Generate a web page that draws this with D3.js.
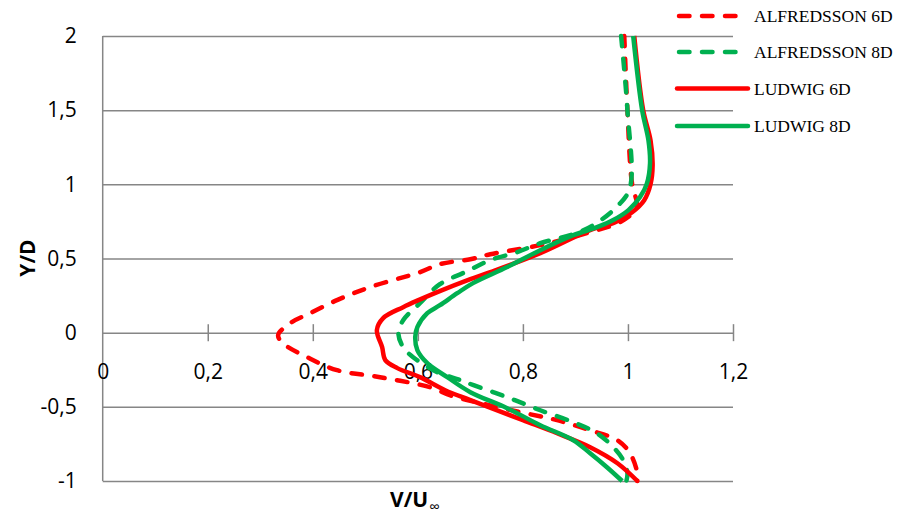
<!DOCTYPE html>
<html>
<head>
<meta charset="utf-8">
<script src="https://cdn.jsdelivr.net/npm/d3@7"></script>
<style>
  html, body { margin: 0; padding: 0; background: #fff; }
  svg { display: block; }
</style>
</head>
<body>
<svg id="chart" width="904" height="520"></svg>
<script>
// ---- data ----
const seriesNames = ["ALFREDSSON 6D", "ALFREDSSON 8D", "LUDWIG 6D", "LUDWIG 8D"];
const seriesColors = ["#FF0000", "#00B050", "#FF0000", "#00B050"];
const seriesDashed = [true, true, false, false];

const alfredsson6D_x = [0.993, 0.999, 1.008, 1.017, 1.014, 0.985, 0.928, 0.833, 0.738, 0.700, 0.642, 0.604, 0.509, 0.446, 0.395, 0.357, 0.334, 0.343, 0.389, 0.446, 0.528, 0.623, 0.666, 0.719, 0.795, 0.865, 0.928, 0.980, 1.004, 1.018, 1.018];
const alfredsson6D_y = [2.0, 1.5, 1.0, 0.873, 0.826, 0.745, 0.678, 0.590, 0.529, 0.495, 0.462, 0.408, 0.307, 0.219, 0.131, 0.064, -0.017, -0.071, -0.165, -0.253, -0.300, -0.368, -0.428, -0.475, -0.536, -0.590, -0.658, -0.725, -0.813, -0.948, -1.0];

const alfredsson8D_x = [0.987, 0.999, 1.004, 0.982, 0.934, 0.896, 0.833, 0.789, 0.738, 0.690, 0.642, 0.604, 0.572, 0.563, 0.572, 0.591, 0.637, 0.681, 0.706, 0.770, 0.833, 0.896, 0.941, 0.972, 0.991, 0.999, 0.997];
const alfredsson8D_y = [2.0, 1.5, 0.98, 0.860, 0.725, 0.664, 0.603, 0.543, 0.489, 0.408, 0.327, 0.199, 0.084, -0.003, -0.098, -0.165, -0.266, -0.320, -0.354, -0.435, -0.523, -0.604, -0.678, -0.772, -0.860, -0.948, -1.0];

const ludwig6D_x = [1.012, 1.029, 1.043, 1.047, 1.043, 1.031, 1.008, 0.976, 0.928, 0.833, 0.738, 0.700, 0.637, 0.572, 0.534, 0.522, 0.532, 0.538, 0.561, 0.604, 0.652, 0.700, 0.800, 0.865, 0.928, 0.980, 1.018];
const ludwig6D_y = [2.0, 1.5, 1.297, 1.13, 1.0, 0.893, 0.812, 0.745, 0.691, 0.536, 0.408, 0.361, 0.273, 0.172, 0.098, 0.017, -0.098, -0.185, -0.239, -0.300, -0.388, -0.455, -0.590, -0.678, -0.772, -0.880, -1.0];

const ludwig8D_x = [1.010, 1.027, 1.039, 1.042, 1.036, 1.023, 1.001, 0.972, 0.941, 0.896, 0.833, 0.770, 0.705, 0.675, 0.642, 0.618, 0.599, 0.595, 0.599, 0.618, 0.656, 0.700, 0.770, 0.833, 0.896, 0.928, 0.960, 0.989];
const ludwig8D_y = [2.0, 1.5, 1.297, 1.140, 1.005, 0.914, 0.826, 0.759, 0.711, 0.657, 0.556, 0.442, 0.334, 0.266, 0.185, 0.131, 0.037, -0.030, -0.118, -0.206, -0.300, -0.401, -0.509, -0.624, -0.725, -0.813, -0.907, -1.0];

const xTickValues = [0.2, 0.4, 0.6, 0.8, 1.0, 1.2];
const xLabelValues = [0, 0.2, 0.4, 0.6, 0.8, 1.0, 1.2];
const xTickLabels = ["0", "0,2", "0,4", "0,6", "0,8", "1", "1,2"];
const yTickValues = [-1, -0.5, 0, 0.5, 1, 1.5, 2];
const yTickLabels = ["-1", "-0,5", "0", "0,5", "1", "1,5", "2"];

// ---- chart ----
const svg = d3.select("#chart");
const gridColor = "#868686";
const tickFont = "'Open Sans', 'Liberation Sans', sans-serif";

const x = d3.scaleLinear().domain([0, 1.2]).range([102.7, 733]);
const y = d3.scaleLinear().domain([-1, 2]).range([481, 36]);

// horizontal gridlines + y labels
const yAxis = d3.axisLeft(y)
  .tickValues(yTickValues)
  .tickSize(-(x(1.2) - x(0)))
  .tickPadding(26)
  .tickFormat((d, i) => yTickLabels[i]);
const gy = svg.append("g").attr("transform", `translate(${x(0)},0)`).call(yAxis);
gy.select(".domain").remove();
gy.selectAll(".tick line").attr("stroke", gridColor).attr("stroke-width", 1.5);
gy.selectAll(".tick text")
  .attr("font-family", tickFont).attr("font-size", 21).attr("fill", "#000")
  .attr("x", -26);

// vertical axis line
svg.append("line")
  .attr("x1", x(0)).attr("x2", x(0))
  .attr("y1", y(2)).attr("y2", y(-1))
  .attr("stroke", gridColor).attr("stroke-width", 1.5);

// x axis tick marks crossing the zero line
const xTicks = d3.axisBottom(x).tickValues(xTickValues).tickSize(17).tickFormat("");
const gxt = svg.append("g").attr("transform", `translate(0,${y(0) - 8.5})`).call(xTicks);
gxt.select(".domain").remove();
gxt.selectAll(".tick line").attr("stroke", gridColor).attr("stroke-width", 1.5);

// x tick labels
const xLabels = d3.axisBottom(x).tickValues(xLabelValues).tickSize(0)
  .tickFormat((d, i) => xTickLabels[i]);
const gxl = svg.append("g").attr("transform", `translate(0,${y(0) + 28})`).call(xLabels);
gxl.select(".domain").remove();
gxl.selectAll(".tick text")
  .attr("font-family", tickFont).attr("font-size", 21).attr("fill", "#000").attr("dy", "0.71em");

// series lines
const allX = [alfredsson6D_x, alfredsson8D_x, ludwig6D_x, ludwig8D_x];
const allY = [alfredsson6D_y, alfredsson8D_y, ludwig6D_y, ludwig8D_y];
const line = d3.line()
  .x(d => x(d[0])).y(d => y(d[1]))
  .curve(d3.curveCatmullRom.alpha(0.5));

allX.forEach((xs, i) => {
  const pts = xs.map((v, j) => [v, allY[i][j]]);
  svg.append("path")
    .datum(pts)
    .attr("d", line)
    .attr("fill", "none")
    .attr("stroke", seriesColors[i])
    .attr("stroke-width", 4.5)
    .attr("stroke-linecap", seriesDashed[i] ? "round" : "butt")
    .attr("stroke-linejoin", "round")
    .attr("stroke-dasharray", seriesDashed[i] ? "10.5 12.5" : null);
});

// legend
const legendY = [16, 52, 88.5, 126];
seriesNames.forEach((name, i) => {
  const g = svg.append("g");
  g.append("line")
    .attr("x1", seriesDashed[i] ? 679 : 677).attr("x2", seriesDashed[i] ? 736 : 748)
    .attr("y1", legendY[i]).attr("y2", legendY[i])
    .attr("stroke", seriesColors[i]).attr("stroke-width", 4.5)
    .attr("stroke-linecap", "round")
    .attr("stroke-dasharray", seriesDashed[i] ? "10.5 12.5" : null);
  g.append("text")
    .attr("x", 754).attr("y", legendY[i]).attr("dy", "0.35em")
    .attr("font-family", "'Liberation Serif', 'Times New Roman', serif")
    .attr("font-size", 17.5).attr("fill", "#000")
    .text(name);
});

// axis titles
svg.append("text")
  .attr("transform", `translate(35,258) rotate(-90)`)
  .attr("text-anchor", "middle")
  .attr("font-family", tickFont).attr("font-weight", "bold").attr("font-size", 21)
  .attr("fill", "#000")
  .text("Y/D");

const xt = svg.append("text")
  .attr("x", 390).attr("y", 507)
  .attr("font-family", tickFont).attr("font-weight", "bold").attr("font-size", 21)
  .attr("fill", "#000");
xt.append("tspan").text("V/U");
xt.append("tspan").attr("font-size", 15).attr("font-weight", "normal").attr("dx", 1).attr("dy", 5).text("∞");
</script>
</body>
</html>
